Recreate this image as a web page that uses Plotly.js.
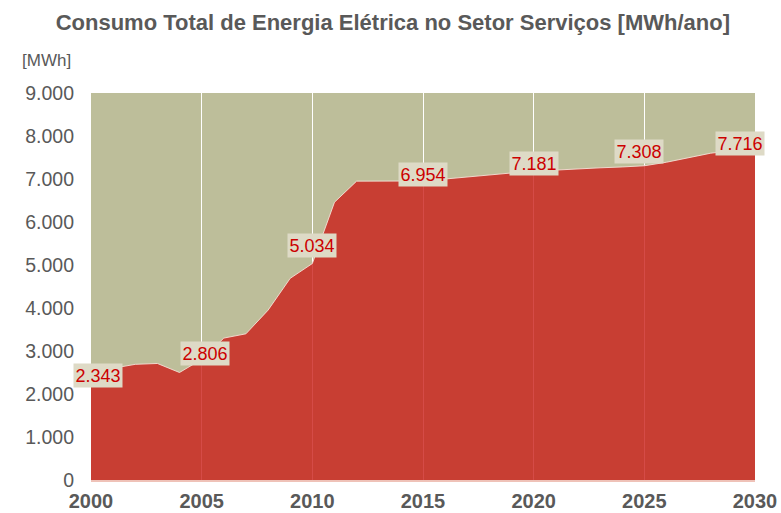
<!DOCTYPE html>
<html>
<head>
<meta charset="utf-8">
<script src="https://cdn.plot.ly/plotly-3.0.1.min.js"></script>
<style>html,body{margin:0;padding:0;background:#fff;}#chart{width:781px;height:513px;}</style>
</head>
<body>
<div id="chart"></div>
<script>
var years = [2000,2001,2002,2003,2004,2005,2006,2007,2008,2009,2010,2011,2012,2013,2014,2015,2016,2017,2018,2019,2020,2021,2022,2023,2024,2025,2026,2027,2028,2029,2030];
var consumo = [2343,2600,2690,2710,2500,2806,3300,3400,3950,4690,5034,6460,6950,6955,6955,6954,7000,7050,7100,7140,7181,7210,7240,7260,7280,7308,7390,7490,7600,7660,7716];
var labelYears = [2000,2005,2010,2015,2020,2025,2030];
var yTicks = [0,1000,2000,3000,4000,5000,6000,7000,8000,9000];
var xTicks = [2000,2005,2010,2015,2020,2025,2030];

var labelShift = {2000:[7,4],2005:[3,6],2010:[0,18],2015:[0,6],2020:[0,8],2025:[-5,14],2030:[-15,5]};

var trace = {
  x: years, y: consumo, type: 'scatter', mode: 'lines', fill: 'tozeroy',
  fillcolor: 'rgba(203,30,25,0.8)',
  line: {color: 'rgba(245,225,215,0.9)', width: 1},
  hoverinfo: 'skip'
};

var annotations = labelYears.map(function(yr){
  var v = consumo[years.indexOf(yr)];
  var s = labelShift[yr];
  return {
    x: yr, y: v, xref: 'x', yref: 'y',
    text: v.toLocaleString('de-DE'),
    showarrow: false, xshift: s[0], yshift: s[1],
    bgcolor: '#DEDAC6', borderpad: 1.5,
    font: {family: 'Liberation Sans, Arial, sans-serif', size: 18, color: '#CC0000'}
  };
});
annotations.push({
  xref: 'paper', yref: 'paper', x: -0.107, y: 1.0, yshift: 33, xanchor: 'left', yanchor: 'middle',
  text: '[MWh]', showarrow: false,
  font: {family: 'Liberation Sans, Arial, sans-serif', size: 17, color: '#595959'}
});

var layout = {
  width: 781, height: 513,
  margin: {l: 91, r: 26, t: 93, b: 33},
  paper_bgcolor: '#ffffff',
  plot_bgcolor: '#BDBE9A',
  separators: ',.',
  showlegend: false,
  title: {
    text: '<b>Consumo Total de Energia Elétrica no Setor Serviços [MWh/ano]</b>',
    x: 0.503, xref: 'container', xanchor: 'center', y: 0.957, yanchor: 'middle',
    font: {family: 'Liberation Sans, Arial, sans-serif', size: 22, color: '#595959'}
  },
  xaxis: {
    range: [2000, 2030], tickvals: xTicks, ticktext: xTicks.map(String),
    showgrid: true, gridcolor: '#ffffff', gridwidth: 1,
    showline: true, linecolor: '#EFC2B8', linewidth: 1.5,
    zeroline: false, ticks: '', ticklabelstandoff: 2,
    tickfont: {family: 'Liberation Sans, Arial, sans-serif', size: 20, color: '#595959', weight: 'bold'}
  },
  yaxis: {
    range: [0, 9000], tickvals: yTicks, tickformat: ',d',
    showgrid: false, zeroline: false, showline: false, ticks: '',
    ticklabelstandoff: 16,
    tickfont: {family: 'Liberation Sans, Arial, sans-serif', size: 19.5, color: '#595959'}
  },
  annotations: annotations
};

Plotly.newPlot('chart', [trace], layout, {displayModeBar: false, staticPlot: true});
</script>
</body>
</html>
